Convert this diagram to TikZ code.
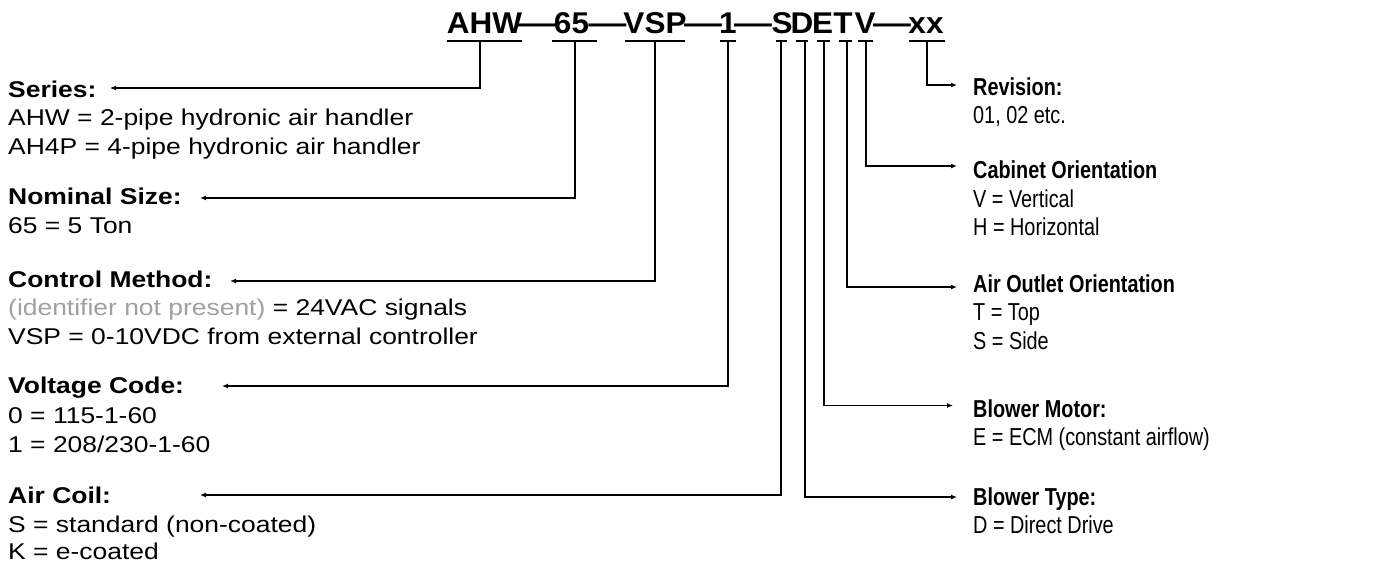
\documentclass[tikz,border=0pt]{standalone}
\usepackage{fontspec}
\setmainfont{Liberation Sans}
\newfontfamily\leftfont[FakeStretch=1.16]{Liberation Sans}
\newfontfamily\rightfont[FakeStretch=0.81]{Liberation Sans}
\newfontfamily\codefont[FakeStretch=1.05]{Liberation Sans}
\usetikzlibrary{arrows.meta}
\definecolor{lightgray}{HTML}{A0A0A0}
\tikzset{
  lt/.style={anchor=base west, inner sep=0pt, font=\leftfont\fontsize{22.8}{27}\selectfont},
  ltitle/.style={anchor=base west, inner sep=0pt, font=\leftfont\bfseries\fontsize{22.8}{27}\selectfont},
  rt/.style={anchor=base west, inner sep=0pt, font=\rightfont\fontsize{24.5}{28}\selectfont},
  rtitle/.style={anchor=base west, inner sep=0pt, font=\rightfont\bfseries\fontsize{24.5}{28}\selectfont},
  code/.style={anchor=base, inner sep=0pt, font=\codefont\bfseries\fontsize{30}{32}\selectfont},
  conn/.style={line width=1.4pt},
  arr/.style={line width=1.4pt, -{Latex[length=6pt,width=5pt]}},
  uline/.style={line width=1.6pt}
}
\newcommand{\cdash}{\scalebox{1.2}[1]{—}}
\begin{document}
\begin{tikzpicture}[x=1pt,y=-1pt]
\useasboundingbox (0,0) rectangle (1398,565);

% code string
\node[code] (kAHW) at (484.5,33) {AHW};
\node[code] (d1) at (537,33) {\cdash};
\node[code] (k65) at (571.5,33) {65};
\node[code] (d2) at (607.5,33) {\cdash};
\node[code] (kVSP) at (655,33) {VSP};
\node[code] (d3) at (703,33) {\cdash};
\node[code] (k1) at (728,33) {1};
\node[code] (d4) at (753,33) {\cdash};
\node[code] (kS) at (782,33) {S};
\node[code] (kD) at (802,33) {D};
\node[code] (kE) at (822.5,33) {E};
\node[code] (kT) at (843,33) {T};
\node[code] (kV) at (865,33) {V};
\node[code] (d5) at (892,33) {\cdash};
\node[code] (kxx) at (926,33) {xx};

% underlines
\draw[uline] (447,41) -- (522,41);
\draw[uline] (552,41) -- (597,41);
\draw[uline] (625,41) -- (685,41);
\draw[uline] (720,41) -- (736,41);
\draw[uline] (776,41) -- (787,41);
\draw[uline] (796,41) -- (808,41);
\draw[uline] (817,41) -- (830,41);
\draw[uline] (839,41) -- (852,41);
\draw[uline] (858,41) -- (873,41);
\draw[uline] (909,41) -- (945,41);

% stem tops
\coordinate (sAHW) at (480,41);
\coordinate (s65) at (575,41);
\coordinate (sVSP) at (655,41);
\coordinate (s1) at (728,41);
\coordinate (sS) at (781,41);
\coordinate (sD) at (805,41);
\coordinate (sE) at (824,41);
\coordinate (sT) at (847,41);
\coordinate (sV) at (866,41);
\coordinate (sxx) at (927,41);

% arrow tips
\coordinate (tSeries) at (110,88);
\coordinate (tNominal) at (200,198);
\coordinate (tControl) at (230,281);
\coordinate (tVoltage) at (222,386);
\coordinate (tCoil) at (200,495);
\coordinate (tType) at (957,497);
\coordinate (tMotor) at (953,405.5);
\coordinate (tOutlet) at (957,287);
\coordinate (tCabinet) at (957,166);
\coordinate (tRevision) at (957,85);

% left texts
\node[ltitle] (series) at (8,97) {Series:};
\node[lt] (series1) at (8,125.5) {AHW = 2-pipe hydronic air handler};
\node[lt] (series2) at (8,154) {AH4P = 4-pipe hydronic air handler};

\node[ltitle] (nominal) at (8,204) {Nominal Size:};
\node[lt] (nominal1) at (8,233) {65 = 5 Ton};

\node[ltitle] (control) at (8,287) {Control Method:};
\node[lt] (control1) at (8,315.5) {\textcolor{lightgray}{(identifier not present)} = 24VAC signals};
\node[lt] (control2) at (8,344) {VSP = 0-10VDC from external controller};

\node[ltitle] (voltage) at (8,393) {Voltage Code:};
\node[lt] (voltage1) at (8,423) {0 = 115-1-60};
\node[lt] (voltage2) at (8,452) {1 = 208/230-1-60};

\node[ltitle] (coil) at (8,503) {Air Coil:};
\node[lt] (coil1) at (8,532) {S = standard (non-coated)};
\node[lt] (coil2) at (8,559) {K = e-coated};

% right texts
\node[rtitle] (revision) at (973,95.5) {Revision:};
\node[rt] (revision1) at (973,123.5) {01, 02 etc.};

\node[rtitle] (cabinet) at (973,178) {Cabinet Orientation};
\node[rt] (cabinet1) at (973,207) {V = Vertical};
\node[rt] (cabinet2) at (973,235) {H = Horizontal};

\node[rtitle] (outlet) at (973,292) {Air Outlet Orientation};
\node[rt] (outlet1) at (973,320.5) {T = Top};
\node[rt] (outlet2) at (973,349) {S = Side};

\node[rtitle] (motor) at (973,417) {Blower Motor:};
\node[rt] (motor1) at (973,445) {E = ECM (constant airflow)};

\node[rtitle] (btype) at (973,505) {Blower Type:};
\node[rt] (btype1) at (973,533.5) {D = Direct Drive};

% connectors
\draw[arr] (sAHW) |- (tSeries);
\draw[arr] (s65) |- (tNominal);
\draw[arr] (sVSP) |- (tControl);
\draw[arr] (s1) |- (tVoltage);
\draw[arr] (sS) |- (tCoil);
\draw[arr] (sD) |- (tType);
\draw[arr] (sE) |- (tMotor);
\draw[arr] (sT) |- (tOutlet);
\draw[arr] (sV) |- (tCabinet);
\draw[arr] (sxx) |- (tRevision);
\end{tikzpicture}
\end{document}
